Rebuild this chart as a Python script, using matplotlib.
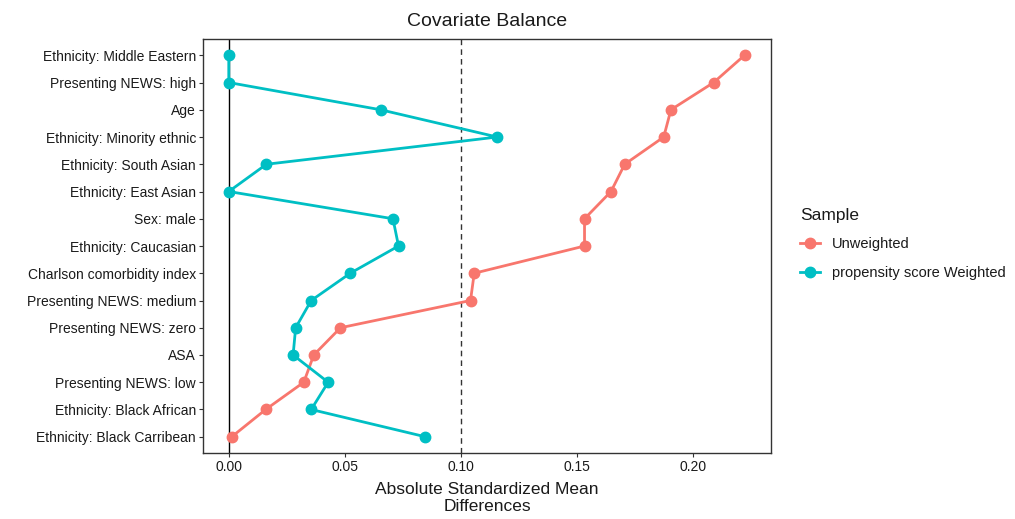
import matplotlib
matplotlib.use("Agg")
import matplotlib.pyplot as plt
from matplotlib.lines import Line2D

plt.rcParams['font.family'] = ['Liberation Sans', 'DejaVu Sans']

# covariates, bottom to top
covariates = [
    'Ethnicity: Black Carribean',
    'Ethnicity: Black African',
    'Presenting NEWS: low',
    'ASA',
    'Presenting NEWS: zero',
    'Presenting NEWS: medium',
    'Charlson comorbidity index',
    'Ethnicity: Caucasian',
    'Sex: male',
    'Ethnicity: East Asian',
    'Ethnicity: South Asian',
    'Ethnicity: Minority ethnic',
    'Age',
    'Presenting NEWS: high',
    'Ethnicity: Middle Eastern',
]

unweighted = [0.0013, 0.0159, 0.0323, 0.0366, 0.0481, 0.1041, 0.1057, 0.1532,
              0.1532, 0.1646, 0.1705, 0.1873, 0.1904, 0.2088, 0.2221]
weighted = [0.0846, 0.0355, 0.0428, 0.0277, 0.0288, 0.0355, 0.0523, 0.0731,
            0.0707, 0.0, 0.0162, 0.1156, 0.0654, 0.0, 0.0]

x_ticks = [0.00, 0.05, 0.10, 0.15, 0.20]
threshold = 0.1

red = '#F8766D'
teal = '#00BFC4'
text_col = '#1a1a1a'

fig = plt.figure(figsize=(10.15, 5.19), dpi=100)
ax = fig.add_axes([0.2, 0.127, 0.5596, 0.798])

ypos = list(range(1, len(covariates) + 1))

ax.axvline(0, color='black', lw=1.0, zorder=1)
ax.axvline(threshold, color='#333333', lw=1.0, ls=(0, (4, 3)), zorder=1)

ax.plot(unweighted, ypos, color=red, lw=2, marker='o', ms=7.5, zorder=3)
ax.plot(weighted, ypos, color=teal, lw=2, marker='o', ms=7.5, zorder=3)

ax.set_xlim(-0.0111, 0.2335)
ax.set_ylim(0.4, len(covariates) + 0.6)
ax.set_yticks(ypos)
ax.set_yticklabels(covariates)
ax.set_xticks(x_ticks)
ax.set_xticklabels([f'{t:.2f}' for t in x_ticks])

for s in ax.spines.values():
    s.set_color('#333333')
    s.set_linewidth(1.0)
ax.tick_params(axis='both', length=3, width=0.8, color='#333333',
               labelsize=10, labelcolor=text_col, pad=2)

ax.set_xlabel('Absolute Standardized Mean\nDifferences', fontsize=12.5,
              color=text_col, labelpad=6, linespacing=1.1)
ax.set_title('Covariate Balance', fontsize=14, color=text_col, pad=9)

handles = [Line2D([0], [0], color=red, lw=2, marker='o', ms=7.5),
           Line2D([0], [0], color=teal, lw=2, marker='o', ms=7.5)]
leg = fig.legend(handles, ['Unweighted', 'propensity score Weighted'],
                 title='Sample', loc='center left', bbox_to_anchor=(0.775, 0.53),
                 frameon=False, fontsize=10.5, title_fontsize=12.5,
                 handlelength=1.4, labelspacing=1.0, alignment='left')
for t in leg.get_texts():
    t.set_color(text_col)
leg.get_title().set_color(text_col)

fig.savefig('out.png', dpi=100)
